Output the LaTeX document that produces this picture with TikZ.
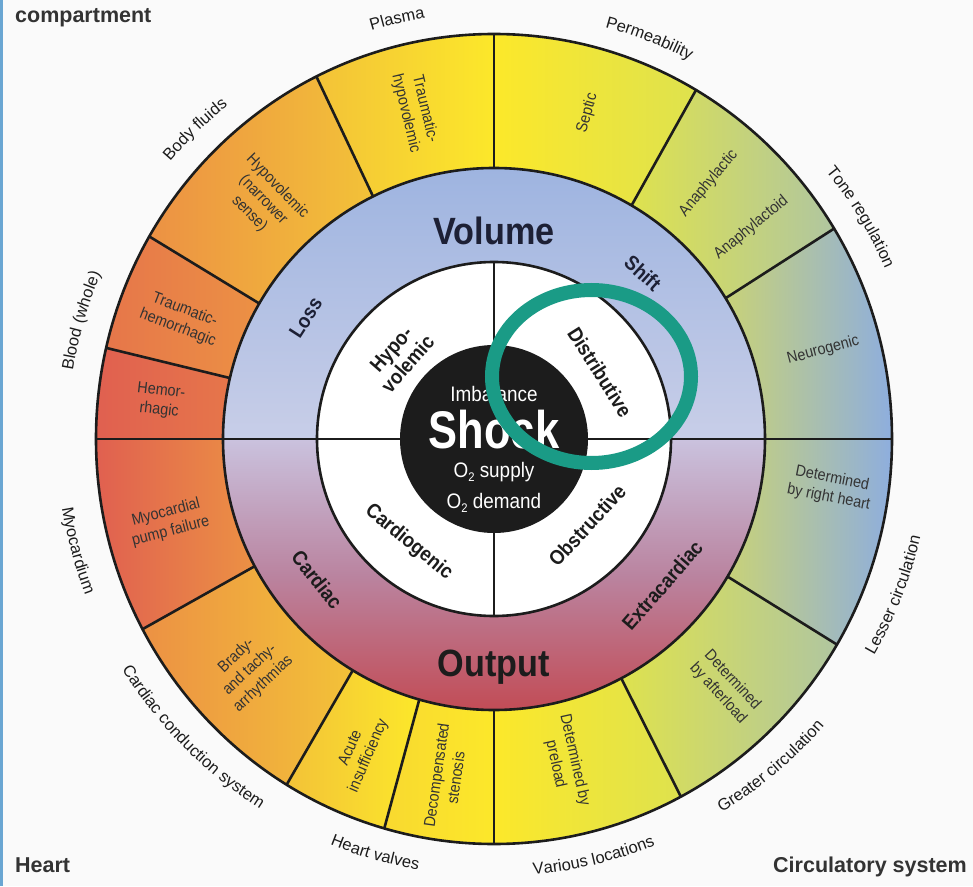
\documentclass[tikz,border=0pt]{standalone}
\usepackage{fontspec}
\setmainfont{Liberation Sans}
\newfontfamily\nsans[FakeStretch=0.9]{Liberation Sans}
\newfontfamily\csans[FakeStretch=0.82]{Liberation Sans}
\usetikzlibrary{decorations.text}

\definecolor{paper}{HTML}{FAFAFA}
\definecolor{ink}{HTML}{1C1C1C}
\definecolor{navy}{HTML}{1D2035}
\definecolor{frame}{HTML}{6AA6D2}
\definecolor{hilite}{HTML}{1A9B86}
% outer ring gradient stops, red -> yellow -> blue
\definecolor{sred}{RGB}{224,96,80}
\definecolor{sredor}{RGB}{230,118,74}
\definecolor{sorange}{RGB}{236,145,68}
\definecolor{sgold}{RGB}{243,194,56}
\definecolor{syellow}{RGB}{252,232,42}
\definecolor{slime}{RGB}{222,226,78}
\definecolor{skhaki}{RGB}{200,210,120}
\definecolor{ssage}{RGB}{176,198,160}
\definecolor{sblue}{RGB}{142,174,222}
% middle ring
\definecolor{mtop}{RGB}{158,180,224}
\definecolor{mmid}{RGB}{200,206,232}
\definecolor{mlav}{RGB}{202,194,222}
\definecolor{mmau}{RGB}{186,132,160}
\definecolor{mred}{RGB}{194,76,86}

\newcommand\olf{\fontsize{16.5}{18}\selectfont}
\newcommand\lowsub[1]{\raisebox{-0.4ex}{\fontsize{12.5}{12.5}\selectfont #1}}

\tikzset{
  ringln/.style={draw=ink,line width=2.6},
  seglbl/.style={font=\nsans\fontsize{16}{19.5}\selectfont,text=ink!90,align=center,inner sep=0pt},
  midlbl/.style={font=\nsans\bfseries\fontsize{20.5}{22}\selectfont,text=navy,inner sep=0pt},
  typlbl/.style={font=\nsans\bfseries\fontsize{20.5}{22}\selectfont,text=ink,align=center,inner sep=0pt},
  biglbl/.style={font=\nsans\bfseries\fontsize{38}{40}\selectfont,inner sep=0pt,anchor=base},
  ctrlbl/.style={font=\nsans\fontsize{21}{23}\selectfont,text=white,inner sep=0pt,anchor=base},
  cnrlbl/.style={font=\bfseries\fontsize{21.5}{24}\selectfont,text=ink!90,inner sep=0pt},
  arclbl/.style={decorate,decoration={text along path,text align=center,text color=ink,text={|\olf|#1}}},
}

\begin{document}
\begin{tikzpicture}[x=1pt,y=1pt]
  \useasboundingbox (-494,-447) rectangle (479,439);
  \fill[paper] (-494,-447) rectangle (479,439);
  \fill[frame] (-494,-447) rectangle (-491,439);
  % outer ring: one shaded sector per cause
  \foreach \a/\b/\cl/\cr in {0/31.3/skhaki/sblue, 31.3/59.5/slime/ssage, 59.5/90/syellow/slime,
      90/116.5/sgold/syellow, 116.5/150/sorange/sgold, 150/167/sredor/sorange, 167/180/sred/sredor,
      180/208/sred/sorange, 208/238.6/sorange/sgold, 238.6/254/sgold/syellow, 254/270/sgold!40!syellow/syellow,
      270/298/syellow/slime, 298/329.5/slime/ssage, 329.5/360/skhaki/sblue}
    \shade[left color=\cl,right color=\cr] (\a:271) arc[start angle=\a,end angle=\b,radius=271]
      -- (\b:398 and 405) arc[start angle=\b,end angle=\a,x radius=398,y radius=405] -- cycle;
  % middle ring: volume above, output below
  \shade[top color=mtop,bottom color=mmid] (0:177) arc[start angle=0,end angle=180,radius=177]
    -- (180:271) arc[start angle=180,end angle=0,radius=271] -- cycle;
  \shade[top color=mlav,bottom color=mred,middle color=mmau] (0:177) arc[start angle=0,end angle=-180,radius=177]
    -- (180:271) arc[start angle=-180,end angle=0,radius=271] -- cycle;
  \fill[white] (0,0) circle[radius=177];
  \fill[ink] (0,0) circle[radius=94];
  % outlines and dividers
  \draw[ringln] (0,0) ellipse[x radius=398,y radius=405];
  \draw[ringln] (0,0) circle[radius=271] (0,0) circle[radius=177];
  \foreach \a in {31.3,59.5,90,116.5,150,167,208,238.6,254,270,298,329.5}
    \draw[ringln] (\a:271) -- (\a:398 and 405);
  \draw[ringln] (-398,0) -- (-94,0) (94,0) -- (398,0) (0,94) -- (0,177) (0,-94) -- (0,-177);

  % labels round the rim
  \path[arclbl=Plasma] (133:426.5) arc[start angle=133,end angle=73,radius=426.5];
  \path[arclbl=Permeability] (98.8:426.5) arc[start angle=98.8,end angle=38.8,radius=426.5];
  \path[arclbl=Tone regulation] (61.2:426.5) arc[start angle=61.2,end angle=1.2,radius=426.5];
  \path[arclbl=Body fluids] (164:426.5) arc[start angle=164,end angle=104,radius=426.5];
  \path[arclbl=Blood (whole)] (194:426.5) arc[start angle=194,end angle=134,radius=426.5];
  \path[arclbl=Myocardium] (165:437.5) arc[start angle=165,end angle=225,radius=437.5];
  \path[arclbl=Cardiac conduction system] (194.7:437.5) arc[start angle=194.7,end angle=254.7,radius=437.5];
  \path[arclbl=Heart valves] (224:437.5) arc[start angle=224,end angle=284,radius=437.5];
  \path[arclbl=Various locations] (253.4:437.5) arc[start angle=253.4,end angle=313.4,radius=437.5];
  \path[arclbl=Greater circulation] (280.2:437.5) arc[start angle=280.2,end angle=340.2,radius=437.5];
  \path[arclbl=Lesser circulation] (308.7:437.5) arc[start angle=308.7,end angle=368.7,radius=437.5];

  % causes in the outer ring
  \node[seglbl,rotate=-6.5]  (hemo)   at (173.5:336)   {Hemor-\\rhagic};
  \node[seglbl,rotate=-21]   (themo)  at (159:335)     {Traumatic-\\hemorrhagic};
  \node[seglbl,rotate=-46]   (hypo)   at (134:332)     {Hypovolemic\\(narrower\\sense)};
  \node[seglbl,rotate=-76.5] (thypo)  at (103.5:337)   {Traumatic-\\hypovolemic};
  \node[seglbl,rotate=74]    (sept)   at (74:339)      {Septic};
  \node[seglbl,rotate=50]    (ana)    at (50:334)      {Anaphylactic};
  \node[seglbl,rotate=39.4]  (anoid)  at (39.4:333)    {Anaphylactoid};
  \node[seglbl,rotate=15]    (neuro)  at (15.1:341)    {Neurogenic};
  \node[seglbl,rotate=-11]   (rheart) at (-8.3:340)    {Determined\\by right heart};
  \node[seglbl,rotate=-47]   (after)  at (-47:339)     {Determined\\by afterload};
  \node[seglbl,rotate=-77.6] (pre)    at (-77.6:331)   {Determined by\\preload};
  \node[seglbl,rotate=82]    (steno)  at (-98.1:341)   {Decompensated\\stenosis};
  \node[seglbl,rotate=66.8]  (insuf)  at (246.8:340.5) {Acute\\insufficiency};
  \node[seglbl,rotate=43.4]  (arrhy)  at (223.4:336)   {Brady-\\and tachy-\\arrhythmias};
  \node[seglbl,rotate=14.3]  (pump)   at (194.3:336)   {Myocardial\\pump failure};

  % middle ring
  \node[biglbl,text=navy] (vol) at (0,194) {Volume};
  \node[biglbl,text=ink]  (out) at (0,-237) {Output};
  \node[midlbl,rotate=57.2]  (loss)  at (147.2:224) {Loss};
  \node[midlbl,rotate=-41.9] (shift) at (48.1:223)  {Shift};
  \node[midlbl,rotate=-51.5,text=ink] (card)  at (218.5:226) {Cardiac};
  \node[midlbl,rotate=49,text=ink]    (xcard) at (-41:223)   {Extracardiac};

  % shock types
  \node[typlbl,rotate=48.9]  (hvol) at (138.9:125.5) {Hypo-\\volemic};
  \node[typlbl,rotate=-57.7] (dist) at (32.3:125.4)  {Distributive};
  \node[typlbl,rotate=-39.5] (cgen) at (230.5:134)   {Cardiogenic};
  \node[typlbl,rotate=47.2]  (obst) at (-42.8:127)   {Obstructive};

  % core
  \node[ctrlbl] (imb) at (0,38) {Imbalance};
  \node[ctrlbl,font=\csans\bfseries\fontsize{53}{55}\selectfont] (shock) at (0,-9) {Shock};
  \node[ctrlbl] (sup) at (0,-38) {O\lowsub{2} supply};
  \node[ctrlbl] (dem) at (0,-69) {O\lowsub{2} demand};

  \node[cnrlbl,anchor=base west] (comp)  at (-479,416)  {compartment};
  \node[cnrlbl,anchor=base west] (heart) at (-479,-433) {Heart};
  \node[cnrlbl,anchor=base east] (circ)  at (473,-433)  {Circulatory system};

  \draw[hilite,line width=14] (97.5,62.5) ellipse[x radius=99.5,y radius=86.5];
\end{tikzpicture}
\end{document}
